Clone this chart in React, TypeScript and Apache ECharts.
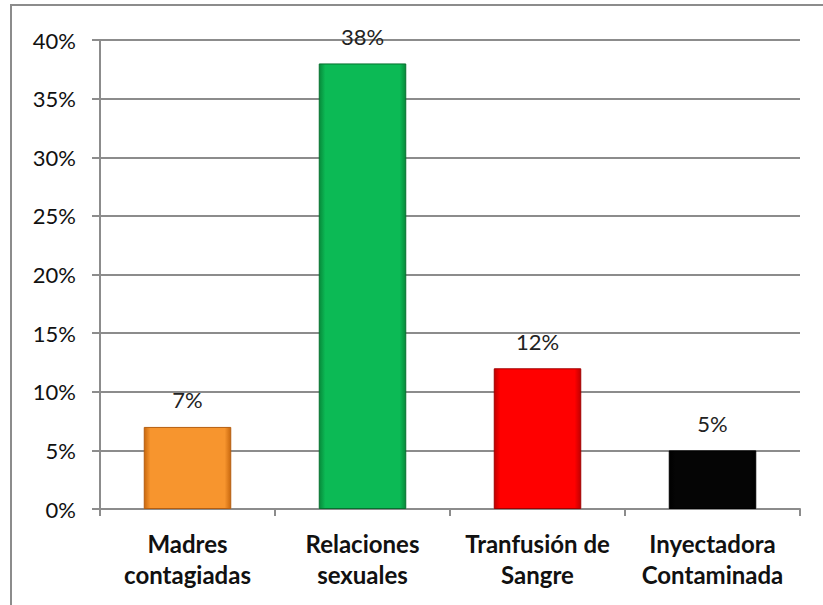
import React, { useEffect, useRef } from "react";
import * as echarts from "echarts";

const categories = ["Madres\ncontagiadas", "Relaciones\nsexuales", "Tranfusión de\nSangre", "Inyectadora\nContaminada"];
const values = [7, 38, 12, 5];
const yTicks = { min: 0, max: 40, interval: 5 };
const barColors = [
  { mid: "#F7952E", edge: "#C9680E", border: "#B55E10" },
  { mid: "#0CBA55", edge: "#078A3A", border: "#06702F" },
  { mid: "#FF0000", edge: "#C00000", border: "#A00000" },
  { mid: "#050505", edge: "#000000", border: "#000000" },
];

export default function App() {
  const ref = useRef<HTMLDivElement>(null);
  useEffect(() => {
    document.body.style.margin = "0";
    const chart = echarts.init(ref.current!, null, { renderer: "svg" });
    const font = "Lato, 'Liberation Sans', sans-serif";
    chart.setOption({
      animation: false,
      backgroundColor: "#fff",
      graphic: [
        {
          type: "rect",
          shape: { x: 11, y: 5, width: 900, height: 700 },
          style: { fill: "none", stroke: "#8c8c8c", lineWidth: 2 },
          silent: true,
        },
      ],
      grid: { left: 100, top: 40, right: 23, bottom: 96, containLabel: false },
      xAxis: {
        type: "category",
        data: categories,
        axisLine: { show: true, lineStyle: { color: "#8c8c8c", width: 2 } },
        axisTick: { show: true, length: 7, lineStyle: { color: "#8c8c8c", width: 2 } },
        axisLabel: {
          color: "#111",
          fontFamily: font,
          fontWeight: "bold",
          fontSize: 24,
          lineHeight: 31,
          margin: 19,
          interval: 0,
        },
      },
      yAxis: {
        type: "value",
        min: yTicks.min,
        max: yTicks.max,
        interval: yTicks.interval,
        axisLine: { show: true, lineStyle: { color: "#8c8c8c", width: 2 } },
        axisTick: { show: true, length: 8, lineStyle: { color: "#8c8c8c", width: 2 } },
        splitLine: { show: true, lineStyle: { color: "#8c8c8c", width: 2 } },
        axisLabel: {
          color: "#111",
          fontFamily: font,
          fontSize: 22,
          margin: 24,
          formatter: (v: number) => `${v}%`,
        },
      },
      series: [
        {
          type: "bar",
          barWidth: "50%",
          data: values.map((v, i) => ({
            value: v,
            itemStyle: {
              color: new echarts.graphic.LinearGradient(0, 0, 1, 0, [
                { offset: 0, color: barColors[i].edge },
                { offset: 0.07, color: barColors[i].mid },
                { offset: 0.93, color: barColors[i].mid },
                { offset: 1, color: barColors[i].edge },
              ]),
              borderColor: barColors[i].border,
              borderWidth: 1,
            },
          })),
          label: {
            show: true,
            position: "top",
            distance: 16,
            color: "#222",
            fontFamily: font,
            fontSize: 22,
            formatter: (p: any) => `${p.value}%`,
          },
        },
      ],
    });
    return () => chart.dispose();
  }, []);
  return <div ref={ref} style={{ width: 823, height: 605 }} />;
}
